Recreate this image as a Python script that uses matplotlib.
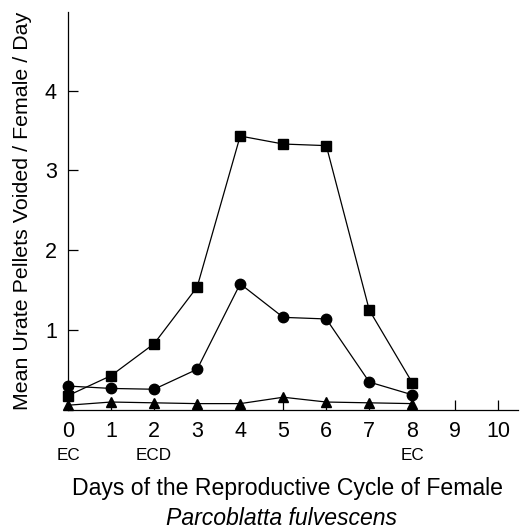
import matplotlib
matplotlib.use("Agg")
import matplotlib.pyplot as plt

days = [0, 1, 2, 3, 4, 5, 6, 7, 8]
squares = [0.18, 0.43, 0.83, 1.54, 3.43, 3.33, 3.31, 1.25, 0.34]
circles = [0.30, 0.27, 0.26, 0.51, 1.58, 1.16, 1.14, 0.35, 0.19]
triangles = [0.06, 0.10, 0.09, 0.08, 0.08, 0.16, 0.10, 0.09, 0.08]
xticks = list(range(11))
yticks = [1, 2, 3, 4]
stage_labels = {0: "EC", 2: "ECD", 8: "EC"}

plt.rcParams.update({"font.family": ["Liberation Sans", "DejaVu Sans"]})
fig = plt.figure(figsize=(5.2, 5.32), dpi=100)
ax = fig.add_axes([0.1308, 0.2293, 0.865, 0.7477])

for vals, mk, ms in [(squares, 's', 7.5), (circles, 'o', 7.5), (triangles, '^', 6.5)]:
    ax.plot(days, vals, color='k', lw=0.9, marker=mk, ms=ms, clip_on=False, zorder=3)

ax.set_xlim(0, 10.45)
ax.set_ylim(0, 4.98)
ax.set_xticks(xticks)
ax.set_yticks(yticks)
ax.tick_params(direction='in', length=7, width=0.9, labelsize=15.5)
ax.tick_params(axis='x', pad=8)
ax.tick_params(axis='y', pad=8)
ax.spines[['top', 'right']].set_visible(False)
for s in ('left', 'bottom'):
    ax.spines[s].set_linewidth(0.9)

for d, lab in stage_labels.items():
    ax.annotate(lab, (d, 0), xycoords='data', xytext=(0, -33), textcoords='offset points',
                ha='center', va='center', fontsize=12.3, annotation_clip=False)

ax.set_ylabel("Mean Urate Pellets Voided / Female / Day", fontsize=15.4, labelpad=9)
fig.text(287 / 520, 1 - 495 / 532, "Days of the Reproductive Cycle of Female",
         ha='center', va='baseline', fontsize=16.6)
fig.text(281 / 520, 1 - 525 / 532, "Parcoblatta fulvescens",
         ha='center', va='baseline', fontsize=16.6, style='italic')

fig.savefig("out.png", dpi=100)
